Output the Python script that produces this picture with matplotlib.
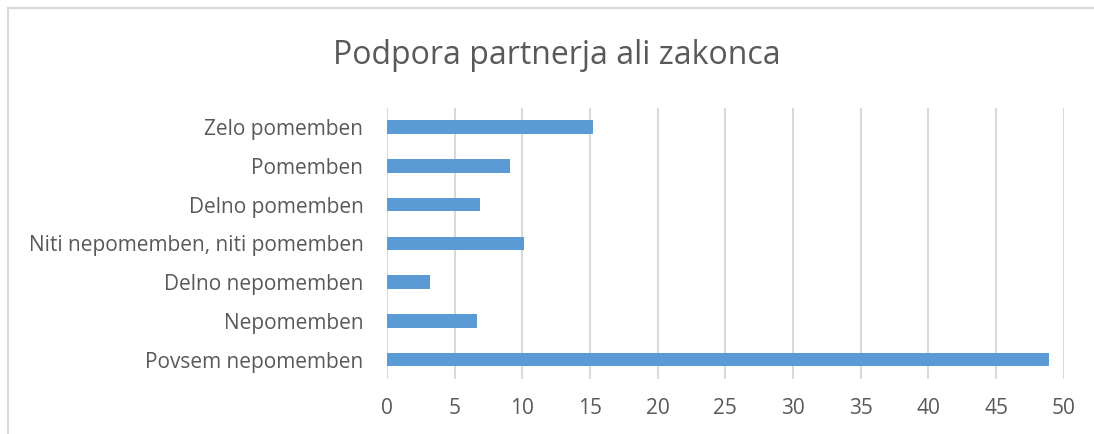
#!/usr/bin/env python3
'''
Horizontal bar chart: Podpora partnerja ali zakonca
'''

import matplotlib as mplt
mplt.use("Agg")
import matplotlib.pyplot as plt
from matplotlib.patches import Rectangle

categories = [
    "Povsem nepomemben",
    "Nepomemben",
    "Delno nepomemben",
    "Niti nepomemben, niti pomemben",
    "Delno pomemben",
    "Pomemben",
    "Zelo pomemben",
]
values = [48.95, 6.63, 3.15, 10.1, 6.85, 9.07, 15.25]
xticks = [0, 5, 10, 15, 20, 25, 30, 35, 40, 45, 50]

TEXT = "#595959"
GRID = "#d9d9d9"
BAR = "#5b9bd5"

plt.rcParams["font.family"] = ["Open Sans", "DejaVu Sans"]

W, H = 1094, 434
fig = plt.figure(figsize=(W / 100, H / 100), dpi=100)

# chart area border (top and left visible, rest runs off the image)
fig.patches.append(Rectangle((8 / W, -0.1), 1.2, 1 - 8 / H + 0.1,
                             transform=fig.transFigure, fill=False,
                             ec=GRID, lw=1.5))

ax = fig.add_axes([387 / W, 1 - 379 / H, (1063.7 - 387) / W, (379 - 107.6) / H])

ax.barh(range(len(categories)), values, height=0.35, color=BAR, zorder=3)

ax.set_xlim(0, 50)
ax.set_ylim(-0.5, len(categories) - 0.5)
ax.set_xticks(xticks)
ax.set_yticks(range(len(categories)))
ax.set_yticklabels(categories)

ax.grid(axis="x", color=GRID, lw=1.5, zorder=0)
for s in ax.spines.values():
    s.set_visible(False)
ax.tick_params(axis="both", length=0, colors=TEXT, labelsize=15)
ax.tick_params(axis="y", pad=17)
ax.tick_params(axis="x", pad=14)

fig.text(557 / W, 1 - 55 / H, "Podpora partnerja ali zakonca",
         ha="center", va="center", color=TEXT, fontsize=23)

plt.savefig("out.png", dpi=100)
plt.close()
